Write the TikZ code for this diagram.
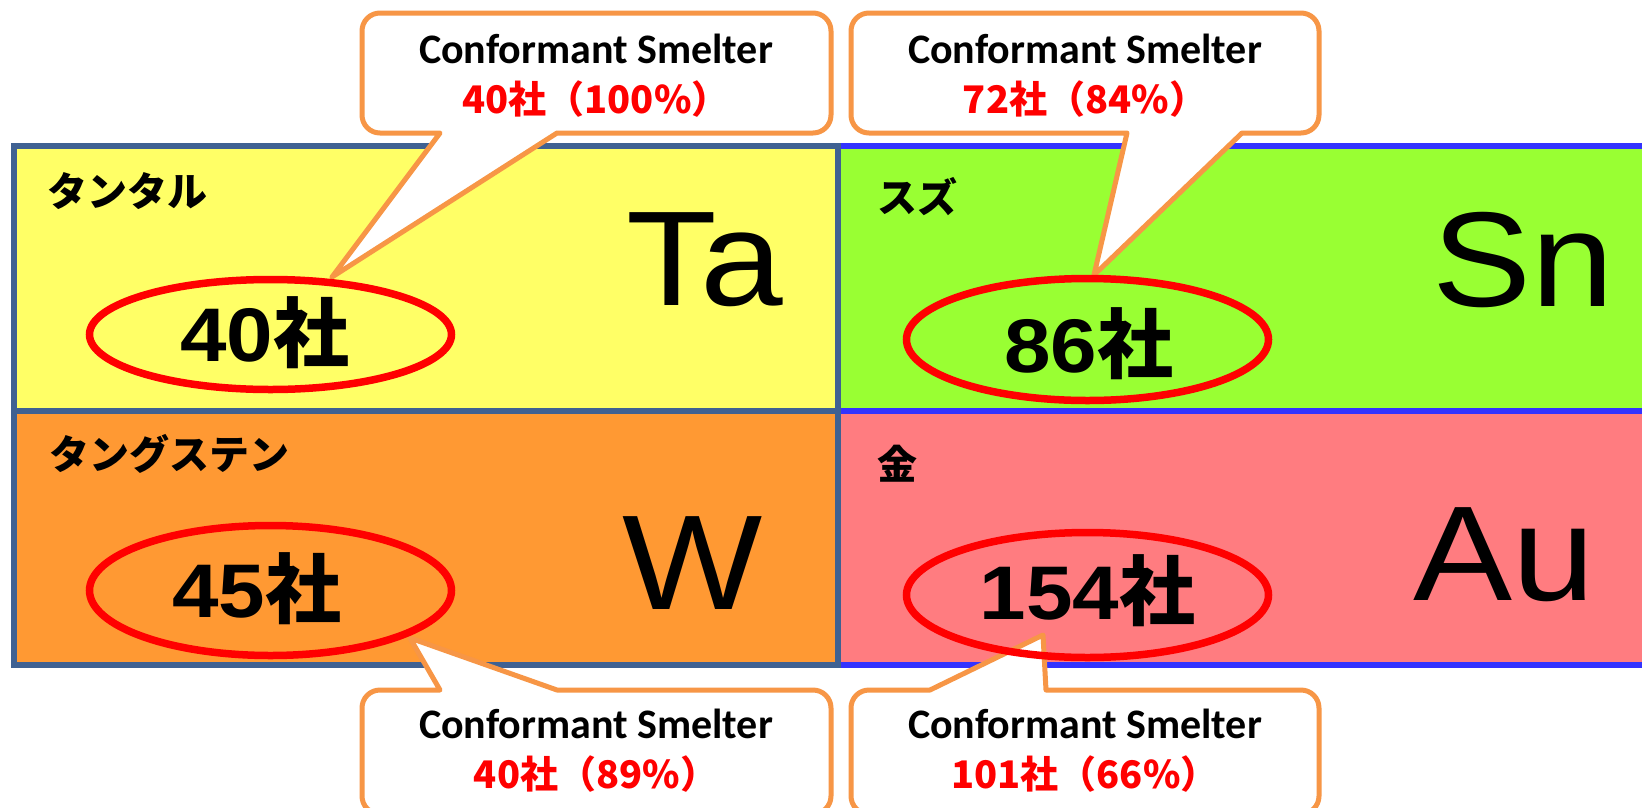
\documentclass[tikz,border=0pt]{standalone}
\usepackage{fontspec}
\setmainfont{Liberation Sans}
\newfontfamily\cjkfont{Noto Sans CJK JP}
\newfontfamily\calfont{Carlito}
\newfontfamily\symfont{Liberation Sans}[FakeStretch=1.1]
\newfontfamily\numfont{Liberation Sans}[FakeStretch=1.1]
\usetikzlibrary{shapes.geometric}
\definecolor{ylw}{HTML}{FFFF66}
\definecolor{grn}{HTML}{99FF33}
\definecolor{org}{HTML}{FF9933}
\definecolor{pnk}{HTML}{FF7C80}
\definecolor{steel}{HTML}{3F6192}
\definecolor{blu}{HTML}{3333FF}
\definecolor{cor}{HTML}{F79646}
\tikzset{
  leftbox/.style={draw=steel, line width=6pt},
  rightbox/.style={draw=blu, line width=6pt},
  callout/.style={draw=cor, line width=5pt, fill=white, line join=round},
  ring/.style={ellipse, draw=red, line width=7.5pt, inner sep=0pt},
  calltitle/.style={font=\calfont\bfseries\fontsize{42}{48}\selectfont, anchor=base, inner sep=0pt},
  callnum/.style={font=\cjkfont\bfseries\fontsize{38}{44}\selectfont, text=red, anchor=base, inner sep=0pt},
  elname/.style={font=\cjkfont\bfseries\fontsize{40}{46}\selectfont, anchor=west, inner sep=0pt},
  symb/.style={font=\symfont\fontsize{135}{150}\selectfont, anchor=base, inner sep=0pt},
  cnt/.style={font=\cjkfont\bfseries\fontsize{76}{84}\selectfont, anchor=base, inner sep=0pt}
}
\begin{document}
\begin{tikzpicture}[x=1pt, y=-1pt]
\clip (0,0) rectangle (1642,807);
\fill[white] (0,0) rectangle (1642,807);
% right boxes
\draw[rightbox, fill=grn] (838,145.5) rectangle (1700,410.5);
\draw[rightbox, fill=pnk] (838,410.5) rectangle (1700,665);
% left boxes
\draw[leftbox, fill=ylw] (14,145.5) rectangle (838,410.5);
\draw[leftbox, fill=org] (14,410.5) rectangle (838,665);
% element names
\node[elname] (nTa) at (47,191) {タンタル};
\node[elname] (nW) at (49,454) {タングステン};
\node[elname] (nSn) at (877,197) {スズ};
\node[elname] (nAu) at (877,464) {金};
% symbols
\node[symb] (sTa) at (705,305) {Ta};
\node[symb] (sSn) at (1523,306) {Sn};
\node[symb] (sW) at (693,609) {W};
\node[symb] (sAu) at (1504,600) {Au};
% callouts
\draw[callout] (380,13) -- (813,13) arc[start angle=-90,end angle=0,radius=18] -- (831,115) arc[start angle=0,end angle=90,radius=18] -- (557,133) -- (332,277) -- (440,133) -- (380,133) arc[start angle=90,end angle=180,radius=18] -- (362,31) arc[start angle=180,end angle=270,radius=18] -- cycle;
\draw[callout] (869,13) -- (1301,13) arc[start angle=-90,end angle=0,radius=18] -- (1319,115) arc[start angle=0,end angle=90,radius=18] -- (1242,133) -- (1094,275) -- (1127,133) -- (869,133) arc[start angle=90,end angle=180,radius=18] -- (851,31) arc[start angle=180,end angle=270,radius=18] -- cycle;
\draw[callout] (380,690) -- (440,690) -- (410,638) -- (557,690) -- (813,690) arc[start angle=-90,end angle=0,radius=18] -- (831,796) arc[start angle=0,end angle=90,radius=18] -- (380,814) arc[start angle=90,end angle=180,radius=18] -- (362,708) arc[start angle=180,end angle=270,radius=18] -- cycle;
\draw[callout] (869,690) -- (930,690) -- (1043,635) -- (1046,690) -- (1301,690) arc[start angle=-90,end angle=0,radius=18] -- (1319,796) arc[start angle=0,end angle=90,radius=18] -- (869,814) arc[start angle=90,end angle=180,radius=18] -- (851,708) arc[start angle=180,end angle=270,radius=18] -- cycle;
% callout texts
\node[calltitle] (tTa) at (596,63) {Conformant Smelter};
\node[callnum] (rTa) at (596,113) {40社（100\%）};
\node[calltitle] (tSn) at (1085,63) {Conformant Smelter};
\node[callnum] (rSn) at (1085,113) {72社（84\%）};
\node[calltitle] (tW) at (596,738) {Conformant Smelter};
\node[callnum] (rW) at (596,788) {40社（89\%）};
\node[calltitle] (tAu) at (1085,738) {Conformant Smelter};
\node[callnum] (rAu) at (1085,788) {101社（66\%）};
% rings
\node[ring, minimum width=362pt, minimum height=110pt] (eTa) at (270.5,334.5) {};
\node[ring, minimum width=362pt, minimum height=122pt] (eSn) at (1087.5,339.5) {};
\node[ring, minimum width=362pt, minimum height=130pt] (eW) at (270.5,590.5) {};
\node[ring, minimum width=362pt, minimum height=125pt] (eAu) at (1087.5,595) {};
% counts
\node[cnt] (cTa) at (265,361) {{\numfont\bfseries 40}社};
\node[cnt] (cSn) at (1088.5,372) {{\numfont\bfseries 86}社};
\node[cnt] (cW) at (257,617) {{\numfont\bfseries 45}社};
\node[cnt] (cAu) at (1087.5,619) {{\numfont\bfseries 154}社};
\end{tikzpicture}
\end{document}
